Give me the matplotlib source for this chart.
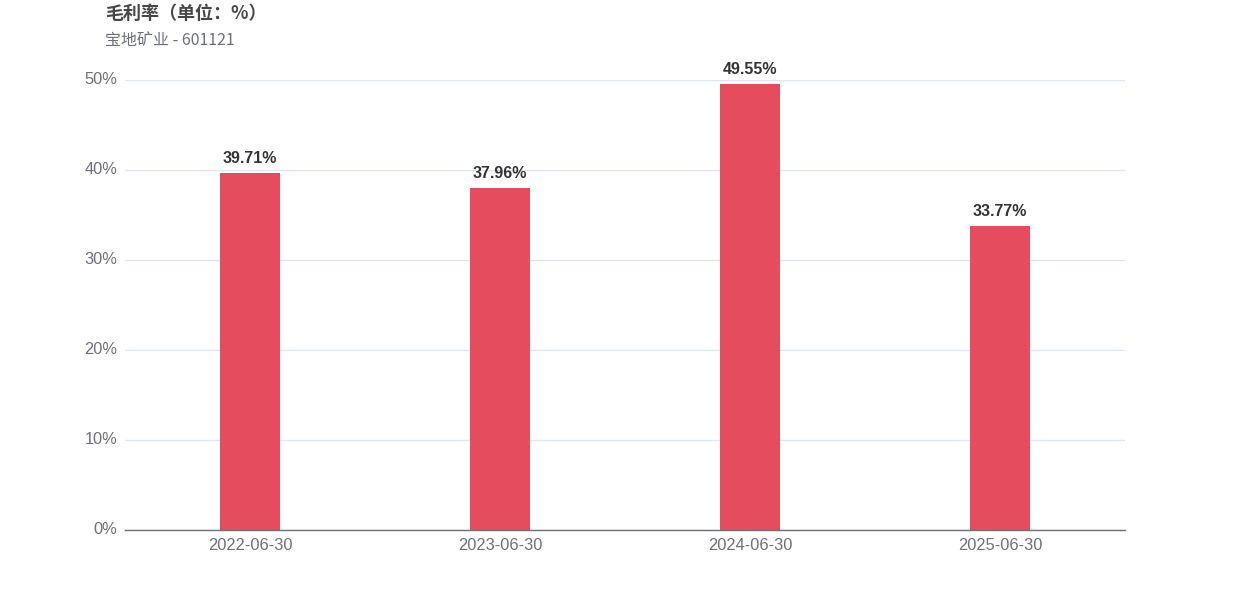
import matplotlib
matplotlib.use("Agg")
import matplotlib.pyplot as plt
from matplotlib.transforms import ScaledTranslation

categories = ["2022-06-30", "2023-06-30", "2024-06-30", "2025-06-30"]
values = [39.71, 37.96, 49.55, 33.77]
yticks = [0, 10, 20, 30, 40, 50]

plt.rcParams['font.family'] = ['Liberation Sans', 'Noto Sans CJK SC', 'DejaVu Sans']

fig = plt.figure(figsize=(12.5, 6), dpi=100)
ax = fig.add_axes([0.1, 70/600, 0.8, 450/600])

x = list(range(len(categories)))
bars = ax.bar(x, values, width=0.24, color="#e54d5f", zorder=3)
for xi, v in zip(x, values):
    ax.annotate(f"{v:.2f}%", (xi, v), xytext=(0, 5), textcoords="offset points",
                ha="center", va="bottom", fontsize=11.5, fontweight="bold", color="#333333")

ax.set_xlim(-0.5, len(categories) - 0.5)
ax.set_ylim(0, 50)
ax.set_yticks(yticks)
ax.set_yticklabels([f"{t}%" for t in yticks])
ax.set_xticks(x)
ax.set_xticklabels(categories)
ax.grid(axis="y", color="#e0e6f1", linewidth=1, zorder=0)
for s in ["top", "right", "left"]:
    ax.spines[s].set_visible(False)
ax.spines["bottom"].set_color("#6e7079")
ax.spines["bottom"].set_linewidth(1)
ax.spines["bottom"].set_zorder(4)
ax.tick_params(axis="both", length=0, labelsize=11.8, colors="#6e7079")
ax.tick_params(axis="y", pad=5.5)
ax.tick_params(axis="x", pad=6)
shift = ScaledTranslation(0, 2/100, fig.dpi_scale_trans)
for lbl in ax.get_yticklabels():
    lbl.set_transform(lbl.get_transform() + shift)

fig.text(105/1250, 1 - 13/600, "毛利率（单位：%）", fontsize=13, fontweight="bold",
         color="#464646", ha="left", va="center",
         family=['Noto Sans CJK SC', 'DejaVu Sans'])
fig.text(105/1250, 1 - 40/600, "宝地矿业 - 601121", fontsize=11.5,
         color="#6e7079", ha="left", va="center",
         family=['Noto Sans CJK SC', 'DejaVu Sans'])

fig.savefig("out.png", dpi=100)
